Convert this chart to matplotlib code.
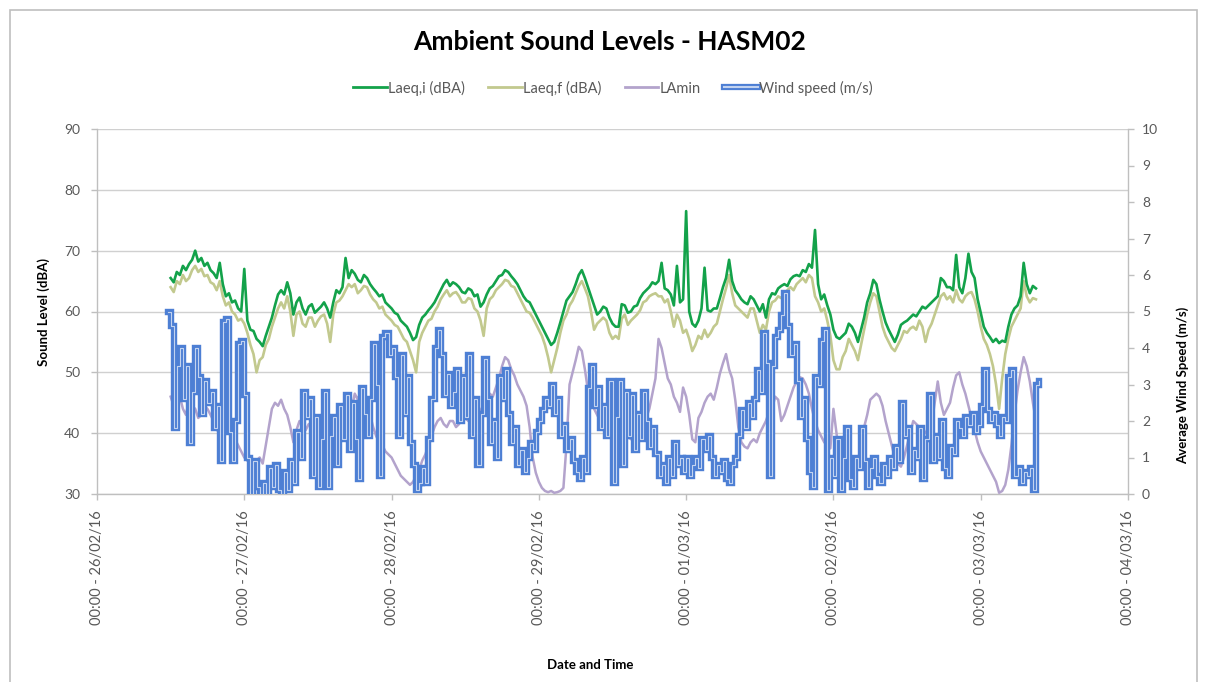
import matplotlib
matplotlib.use("Agg")
import matplotlib.pyplot as plt
import matplotlib.dates as mdates
from matplotlib.lines import Line2D
from matplotlib.legend_handler import HandlerTuple
from matplotlib.patches import Rectangle
import pandas as pd

plt.rcParams['font.family'] = ['Lato', 'DejaVu Sans']

# Half-hourly levels from 26/02/16 12:00 onwards (dBA)
laeq_i = [65.5, 64.8, 66.5, 66, 67.5, 66.8, 67.8, 68.5, 70, 68.2,
          68.8, 67.5, 68, 66.8, 66.3, 65.5, 68, 64.5, 62.5, 63,
          61.5, 61.8, 60.5, 60, 67, 58.5, 57, 56.8, 55.5, 55,
          54.3, 56, 57.5, 59, 61, 62.8, 63.5, 62.8, 64.8, 63,
          59.5, 61.5, 62.3, 60.5, 59.5, 60.8, 61.2, 59.8, 60.3, 60.8,
          61.5, 60.5, 59, 61.5, 63.5, 63, 64, 68.8, 65.5, 66.8,
          66.2, 65.2, 64.8, 66, 65.5, 64.5, 63.8, 63.2, 62.5, 62.8,
          61.5, 61, 60.5, 59.8, 59.5, 58.5, 58, 57.5, 56.5, 55.3,
          55.8, 57.8, 59, 59.5, 60.2, 60.8, 61.5, 62.5, 63.5, 64.5,
          65.2, 64.2, 64.8, 64.5, 64, 63.2, 63, 63.8, 63.5, 62.5,
          62.8, 60.8, 61.5, 62.8, 63.8, 64.2, 65, 65.8, 66, 66.8,
          66.5, 65.8, 65.2, 64.5, 63.5, 62.5, 61.8, 61.5, 60.5, 59.5,
          58.5, 57.5, 56.5, 55.5, 54.5, 55, 56.5, 58.2, 60, 61.8,
          62.5, 63.2, 64.5, 66, 66.8, 65.5, 64, 62.5, 61, 59.5,
          60, 60.8, 60.5, 59, 58, 57.5, 57.5, 61.2, 61, 59.8,
          60, 60.8, 61, 62.2, 63, 63.5, 64, 64.8, 64.5, 65,
          68, 63.8, 63.5, 62.8, 61, 67.5, 61.5, 62, 76.5, 60,
          58, 57.5, 58.5, 60.5, 67.2, 60.2, 60, 60.5, 60.5, 62.2,
          64, 65.5, 68.5, 65, 63.5, 62.8, 62, 61.5, 61.2, 62.5,
          62, 61, 60, 61.2, 59, 62, 63, 62.8, 63.8, 64.2,
          64.5, 64.2, 65.3, 65.8, 66, 65.8, 66.8, 66.5, 67.8, 67.2,
          73.4, 64.5, 62, 62.8, 61, 59.5, 57, 55.8, 55.5, 56,
          56.5, 58, 57.5, 56.5, 55, 57, 59, 61.5, 63, 65.2,
          64.5, 62, 60, 58.2, 57, 56, 55, 56.2, 57.8, 58.2,
          58.5, 59, 59.5, 59.2, 60, 60.8, 60.5, 61, 61.5, 62,
          62.5, 65.5, 65, 64, 64, 63.5, 69.3, 64, 63, 65.5,
          69.5, 66.5, 65.5, 62, 59.8, 57.5, 56.5, 55.8, 55, 55.5,
          54.8, 55.2, 55, 57.5, 59.5, 60.5, 61, 62.5, 68, 64.5,
          63, 64.2, 63.8]

laeq_f = [64, 63.2, 65, 64.5, 66, 65, 65.5, 66.8, 67.5, 66.5,
          67, 65.8, 66, 64.8, 64.5, 63.5, 65, 62.5, 61, 61.5,
          60, 59.5, 58.5, 58.8, 58, 56.5, 54.5, 53, 50, 52,
          52.5, 54.5, 55.5, 57.5, 59, 60.5, 61.5, 60.5, 62.5, 60,
          56, 59.5, 60, 58, 57.5, 59, 59, 57.5, 58.5, 59.2,
          59.5, 58, 55, 59.5, 61.5, 61.8, 62.5, 63.5, 64.5, 64,
          64.5, 63, 63.5, 64.2, 64, 62.8, 62, 61.5, 60.5, 60.8,
          59.5, 59, 58.5, 57.8, 57.5, 56.5, 55.5, 55, 53.5, 52,
          50, 55, 56.5, 57.5, 58.5, 58.8, 60, 60.8, 62, 62.8,
          63.5, 62.5, 63, 63.2, 62.5, 61.5, 61.5, 62.2, 62, 60.5,
          60, 58.5, 56, 60.5, 62, 62.5, 63.5, 64, 64.5, 65.2,
          65, 64.2, 64, 63, 62, 61, 60, 59.8, 59, 58,
          57, 56, 54.5, 52.5, 50, 52, 54, 56.5, 58.5, 59.5,
          61, 61.8, 63, 64.2, 65, 63.8, 62.5, 60, 57, 58,
          58.5, 59, 58.5, 56.5, 55.5, 56, 55.5, 58.8, 59.5, 57.8,
          58.5, 59, 59.5, 60.2, 61.5, 61.8, 62.5, 62.8, 63, 62.5,
          62.5, 61.5, 62, 60, 57.5, 59.5, 58.5, 56.5, 57, 55.5,
          53.5, 54.5, 56, 55.5, 57, 55.8, 56.5, 57.5, 58, 60,
          62, 63.8, 66, 63, 61, 60.5, 60, 59.5, 59, 60.5,
          60.5, 58.5, 56.5, 57.8, 57, 60, 61.5, 61.8, 62.5, 62.2,
          63, 63.5, 64, 63.5, 64.5, 65, 65.5, 64.8, 66, 65.5,
          62.5, 61.5, 60, 60.5, 58.5, 56, 52, 50.5, 50.5, 52.5,
          53.5, 55.5, 54.5, 53.5, 52, 54.5, 57, 59.5, 61.5, 63,
          62.5, 60, 57.5, 56, 55, 54, 53.5, 54.5, 55.5, 56.8,
          56.5, 57.2, 57.5, 57, 58.5, 57.5, 55, 57, 58, 59.5,
          61, 62.5, 63, 62, 62.5, 61.5, 63.5, 62, 61.5, 62.5,
          63, 63.2, 62, 60, 57.5, 55.5, 54.5, 53, 51, 48,
          44, 49, 53, 55.5, 57.5, 58.5, 59.5, 60.5, 65, 62.5,
          61.5, 62.2, 62]

lamin = [46, 44.5, 45, 46, 44, 43, 45.5, 44.5, 44, 42.5,
         43, 44.5, 44, 43, 42, 40.5, 41, 42.5, 42, 40.5,
         40, 39, 38, 37, 36, 35.5, 35, 34.5, 35.5, 36,
         35, 38, 41, 44, 45, 44.5, 45.5, 44, 43, 41,
         38.5, 40.5, 42, 41, 40.5, 41.5, 41, 39.5, 40, 41,
         40.5, 39.5, 39, 40, 39.5, 40.5, 41, 40, 42, 44,
         46.5, 45.5, 47, 46, 45, 43, 41, 39.5, 38.5, 38,
         37, 36.5, 36, 35, 34, 33, 32.5, 32, 31.5, 32,
         33, 34, 35.5, 36.5, 38, 39.5, 41, 42, 42.5, 41.5,
         41, 42, 42, 41, 41.5, 42.5, 42.5, 42, 43, 44,
         44.5, 43.5, 45, 46, 46.5, 46, 47.5, 49, 51, 52.5,
         52, 50.5, 49.5, 48, 47, 46, 44.5, 41, 36, 33.5,
         32, 31, 30.5, 30.3, 30.5, 30.2, 30.3, 30.5, 31, 38,
         48, 50, 52, 54.2, 53.5, 50.5, 47, 45.5, 44, 43,
         42, 41.5, 41, 40.5, 40, 39, 39.5, 40.5, 40, 39.5,
         39, 40, 40.5, 41.5, 41, 42.5, 44, 46.5, 49, 55.5,
         54, 51.5, 49, 48, 46, 45, 43.5, 47.5, 46, 43,
         39, 38.5, 42.5, 43.5, 45, 46, 46.5, 45.5, 47.5, 49.8,
         51.5, 53, 50.5, 49, 45.5, 41, 38.5, 37.8, 37.5, 38.5,
         39, 38.5, 40, 41, 42, 43.5, 44, 46, 45.5, 42,
         43, 44.5, 46, 47.5, 48.5, 49.2, 49, 48, 46.5, 44,
         42, 40.5, 39.5, 38.5, 38, 37.5, 44, 40, 36, 35,
         34.5, 34, 34, 34.2, 34.5, 37, 41, 43, 45.5, 46,
         46.5, 46, 44.5, 42, 40, 38, 36, 35, 34.5, 36,
         38, 40, 42, 41.5, 41, 40.5, 40, 41, 41.5, 45,
         48.5, 45, 43, 44, 45, 47.5, 49.5, 50, 48, 46.5,
         44.5, 42.5, 40.5, 38.5, 37, 36, 35, 34, 33, 32,
         30.2, 30.5, 31.5, 34, 38, 43, 47, 50, 52.5, 51,
         48.5, 45, 42]

# Half-hourly average wind speed from 26/02/16 11:30 onwards (m/s)
wind_part1 = [5.0, 4.6, 1.8, 3.5, 4.0, 2.6, 3.5, 1.4, 2.8, 4.0,
              3.2, 2.2, 3.1, 2.5, 2.8, 1.8, 2.4, 0.9, 4.7, 4.8,
              1.7, 0.9, 2.0, 4.1, 4.2, 2.7, 1.0, 0.0, 0.9, 0.2,
              0.0, 0.3, 0.0, 0.7, 0.2, 0.8, 0.1, 0.0, 0.6, 0.1,
              0.9, 0.3, 1.7, 1.0, 2.8, 2.1, 2.6, 0.5]
wind_part2 = [2.1, 0.2, 1.5, 2.8, 0.2, 1.6, 2.1, 0.8, 2.4, 1.5,
              2.7, 1.2, 2.5, 1.5, 0.4, 2.9, 2.2, 1.6, 2.6, 4.1,
              3.0, 0.5, 4.3, 4.4, 3.8, 4.0, 3.2, 1.6, 3.8, 2.2,
              3.2, 1.4, 0.8, 0.1, 0.3, 0.7, 0.3, 1.5, 2.6, 4.0,
              4.5, 3.8, 2.7, 3.3, 2.4, 2.8, 3.4, 2.0, 3.2, 2.1]
wind_part3 = [3.8, 1.6, 2.6, 0.8, 2.2, 3.7, 2.6, 1.4, 2.0, 1.0,
              3.2, 2.6, 3.4, 2.2, 1.4, 1.8, 0.8, 1.2, 0.6, 1.0,
              1.4, 1.2, 1.7, 2.0, 2.3, 2.6, 2.4, 3.0, 2.2, 2.6,
              1.6, 1.9, 1.2, 1.5, 0.9, 0.6, 0.4, 1.0, 0.6, 2.9,
              3.5, 2.4, 2.9, 1.8, 2.4, 1.6, 3.1, 0.3]
wind_part4 = [2.1, 3.1, 0.8, 2.8, 1.6, 2.7, 1.2, 2.2, 1.5, 2.8,
              2.0, 1.3, 1.8, 1.1, 0.5, 0.8, 0.3, 1.0, 0.5, 1.4,
              0.8, 1.0, 0.6, 1.0, 0.5, 0.8, 1.0, 0.7, 1.5, 1.2,
              1.6, 1.0, 0.5, 0.8, 0.6, 0.9, 0.4, 0.3, 0.8, 1.0,
              1.6, 2.3, 1.8, 2.5, 2.1, 2.6, 3.4, 2.8, 4.4, 3.6]
wind_part5 = [0.5, 3.5, 4.3, 4.5, 4.9, 5.5, 4.6, 3.8, 4.1, 3.1,
              2.1, 2.6, 1.5, 0.6, 0.2, 3.2, 3.0, 4.2, 4.5, 0.1,
              1.0, 0.5, 1.5, 0.1, 1.0, 1.8, 0.4, 0.2, 1.0, 0.7,
              1.8, 0.9, 0.2, 0.7, 1.0, 0.5, 0.3, 0.8, 0.5, 1.0,
              0.7, 1.3, 0.9, 2.5, 1.6, 1.8, 0.6, 1.2, 1.0]
wind_part6 = [1.8, 0.4, 1.5, 2.7, 0.9, 1.6, 1.0, 2.0, 0.7, 0.5,
              1.3, 1.1, 2.0, 1.8, 1.6, 2.1, 1.9, 2.2, 1.7, 1.9,
              2.4, 3.4, 2.3, 2.0, 2.2, 1.9, 1.6, 2.1, 2.0, 3.2,
              3.4, 0.5, 0.7, 0.3, 0.6, 0.5, 0.7, 0.1, 3.0, 3.1]

date_ticks = ["2016-02-26", "2016-02-27", "2016-02-28", "2016-02-29",
              "2016-03-01", "2016-03-02", "2016-03-03", "2016-03-04"]

wind = wind_part1 + wind_part2 + wind_part3 + wind_part4 + wind_part5 + wind_part6
level_times = pd.date_range("2016-02-26 12:00", periods=len(laeq_i), freq="30min")
wind_times = pd.date_range("2016-02-26 11:30", periods=len(wind), freq="30min")

W, H = 1206, 682
fig = plt.figure(figsize=(W / 100, H / 100), dpi=100)
fig.patches.append(Rectangle((10 / W, -0.1), (1197 - 10) / W, 1.1 - 10 / H,
                             transform=fig.transFigure, fill=False,
                             edgecolor='#bfbfbf', lw=1.2))

left, right, top, bottom = 97, 1128, 129, 494
ax = fig.add_axes([left / W, 1 - bottom / H, (right - left) / W, (bottom - top) / H])
ax2 = ax.twinx()

green = '#13a24a'
tan = '#c2c98e'
purple = '#b3a3cc'
blue = '#4d7fd4'
blue_inner = '#c2d3f0'
grey_text = '#595959'
grid_col = '#d0d0d0'

ax.plot(level_times, lamin, color=purple, lw=1.8, zorder=3)
ax.plot(level_times, laeq_f, color=tan, lw=1.9, zorder=4)
ax.plot(level_times, laeq_i, color=green, lw=1.9, zorder=5)

# Wind speed drawn as a double line: wide blue stroke with a pale core
ax2.plot(wind_times, wind, color=blue, lw=4.6, drawstyle='steps-post',
         solid_joinstyle='miter', zorder=3)
ax2.plot(wind_times, wind, color=blue_inner, lw=0.8, drawstyle='steps-post',
         zorder=4)

ax.set_ylim(30, 90)
ax.set_yticks(range(30, 91, 10))
ax2.set_ylim(0, 10)
ax2.set_yticks(range(0, 11))

xmin = pd.Timestamp(date_ticks[0])
xmax = pd.Timestamp(date_ticks[-1])
ax.set_xlim(xmin, xmax)
ax.set_xticks([pd.Timestamp(d) for d in date_ticks])
ax.xaxis.set_major_formatter(mdates.DateFormatter('%H:%M - %d/%m/%y'))

ax.grid(axis='y', color=grid_col, lw=1.0)
ax.set_axisbelow(True)

for a in (ax, ax2):
    for s in a.spines.values():
        s.set_visible(False)
ax.spines['left'].set_visible(True)
ax.spines['bottom'].set_visible(True)
ax2.spines['right'].set_visible(True)
for s in (ax.spines['left'], ax.spines['bottom'], ax2.spines['right']):
    s.set_color('#bfbfbf')
    s.set_linewidth(1.0)

ax.tick_params(axis='y', colors='#bfbfbf', labelcolor=grey_text, labelsize=10,
               length=4, width=1, pad=8)
ax.tick_params(axis='x', colors='#bfbfbf', labelcolor=grey_text, labelsize=10.5,
               length=4, width=1, pad=8, labelrotation=90)
ax2.tick_params(axis='y', colors='#bfbfbf', labelcolor=grey_text, labelsize=10,
                length=4, width=1, pad=6)

ax.set_ylabel('Sound Level (dBA)', fontsize=9.5, fontweight='bold',
              color='black', labelpad=10)
fig.text(1183 / W, 1 - 385 / H, 'Average Wind Speed (m/s)', fontsize=9.5,
         fontweight='bold', rotation=90, ha='center', va='center')
fig.text(590 / W, 1 - 665 / H, 'Date and Time', fontsize=9.5, fontweight='bold',
         ha='center', va='center')

fig.text(610 / W, 1 - 42 / H, 'Ambient Sound Levels - HASM02', fontsize=19,
         fontweight='bold', ha='center', va='center', color='black')

h_i = Line2D([], [], color=green, lw=2)
h_f = Line2D([], [], color=tan, lw=2)
h_m = Line2D([], [], color=purple, lw=2)
h_w_out = Line2D([], [], color=blue, lw=4.5)
h_w_in = Line2D([], [], color=blue_inner, lw=1.5)
leg = fig.legend([h_i, h_f, h_m, (h_w_out, h_w_in)],
                 ['Laeq,i (dBA)', 'Laeq,f (dBA)', 'LAmin', 'Wind speed (m/s)'],
                 handler_map={tuple: HandlerTuple(ndivide=1)},
                 loc='center', bbox_to_anchor=(613 / W, 1 - 88 / H), ncol=4,
                 frameon=False, fontsize=10.5, handlelength=2.3,
                 handletextpad=0.1, columnspacing=1.6)
for t in leg.get_texts():
    t.set_color(grey_text)

fig.savefig('out.png', dpi=100, facecolor='white')
